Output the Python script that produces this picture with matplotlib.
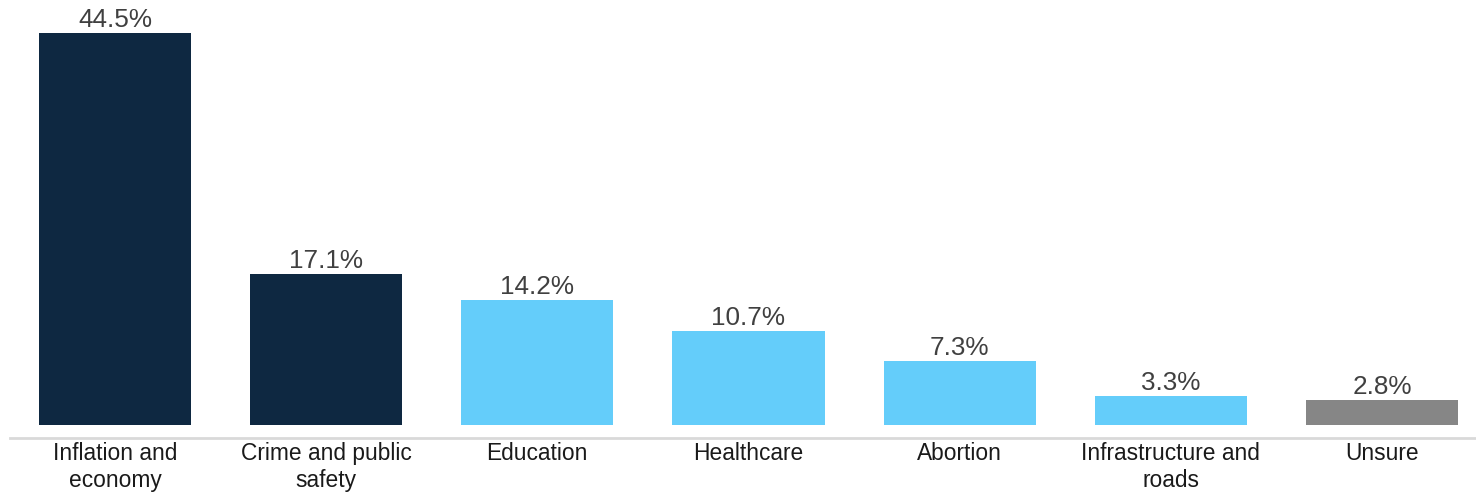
import matplotlib.pyplot as plt
import numpy as np

categories = ['Inflation and\neconomy', 'Crime and public\nsafety', 'Education',
              'Healthcare', 'Abortion', 'Infrastructure and\nroads', 'Unsure']
values = [44.5, 17.1, 14.2, 10.7, 7.3, 3.3, 2.8]
colors = ['#0E2841', '#0E2841', '#64CDFA', '#64CDFA', '#64CDFA', '#64CDFA', '#868686']

plt.rcParams['font.family'] = ['Liberation Sans', 'DejaVu Sans']

fig = plt.figure(figsize=(14.76, 4.92), dpi=100)
ax = fig.add_axes([10 / 1476, 54 / 492, 1466 / 1476, 438 / 492])

x = np.arange(len(categories))
bars = ax.bar(x, values, width=0.72, color=colors)

for xi, v in zip(x, values):
    ax.annotate(f'{v}%', (xi, v), xytext=(0, 4.3), textcoords='offset points',
                ha='center', va='baseline', fontsize=18.8, color='#404040')

ax.set_xlim(-0.497, 6.445)
ax.set_ylim(-1.48, 48.2)
ax.set_xticks(x)
ax.set_xticklabels(categories, fontsize=16.4, color='#1a1a1a', linespacing=1.2)
ax.tick_params(axis='x', which='both', length=0, pad=3)
ax.set_yticks([])
for s in ['top', 'right', 'left']:
    ax.spines[s].set_visible(False)
ax.spines['bottom'].set_color('#d9d9d9')
ax.spines['bottom'].set_linewidth(2)

plt.savefig('out.png', dpi=100)
